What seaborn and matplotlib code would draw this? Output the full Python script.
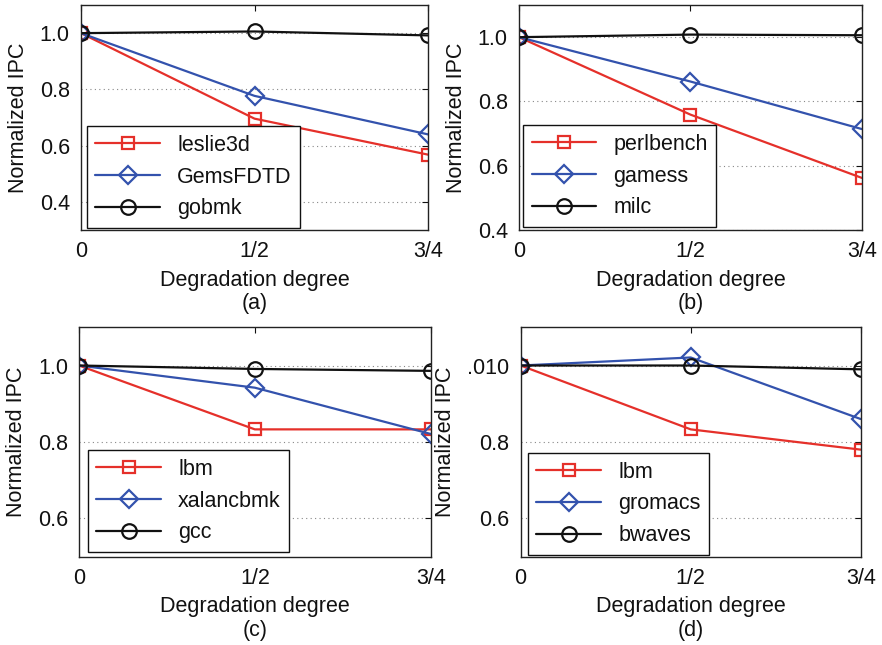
import numpy as np
import pandas as pd
import seaborn as sns
import matplotlib
matplotlib.use("Agg")
import matplotlib.pyplot as plt

# degradation degrees on the x axis (drawn equally spaced)
degrees = ["0", "1/2", "3/4"]

# panel (a)
a_names = ["leslie3d", "GemsFDTD", "gobmk"]
a_leslie3d = [1.0, 0.696, 0.568]
a_gemsfdtd = [1.0, 0.777, 0.640]
a_gobmk = [1.0, 1.006, 0.992]

# panel (b)
b_names = ["perlbench", "gamess", "milc"]
b_perlbench = [1.0, 0.759, 0.562]
b_gamess = [1.0, 0.862, 0.714]
b_milc = [1.0, 1.008, 1.006]

# panel (c)
c_names = ["lbm", "xalancbmk", "gcc"]
c_lbm = [1.0, 0.833, 0.833]
c_xalancbmk = [1.0, 0.942, 0.821]
c_gcc = [1.0, 0.991, 0.986]

# panel (d)
d_names = ["lbm", "gromacs", "bwaves"]
d_lbm = [1.0, 0.833, 0.780]
d_gromacs = [1.0, 1.021, 0.860]
d_bwaves = [1.0, 1.000, 0.990]

sns.set_style("white")
plt.rcParams["font.family"] = ["Liberation Sans", "DejaVu Sans"]
plt.rcParams["text.color"] = "#111111"
plt.rcParams["axes.labelcolor"] = "#111111"
plt.rcParams["xtick.color"] = "#111111"
plt.rcParams["ytick.color"] = "#111111"

colors = ["#e5302a", "#3352ad", "#111111"]
markers = ["s", "D", "o"]
msizes = [9, 9, 10.5]
fs = 15.5

fig = plt.figure(figsize=(8.82, 6.45), dpi=100)

panels = [
    ("(a)", a_names, [a_leslie3d, a_gemsfdtd, a_gobmk], [0.0918, 0.6434, 0.3935, 0.3488],
     (0.3, 1.1), [0.4, 0.6, 0.8, 1.0], ["0.4", "0.6", "0.8", "1.0"], (0.017, 0.009)),
    ("(b)", b_names, [b_perlbench, b_gamess, b_milc], [0.5884, 0.6434, 0.3889, 0.3488],
     (0.4, 1.1), [0.4, 0.6, 0.8, 1.0], ["0.4", "0.6", "0.8", "1.0"], (0.012, 0.013)),
    ("(c)", c_names, [c_lbm, c_xalancbmk, c_gcc], [0.0896, 0.1369, 0.3987, 0.3557],
     (0.5, 1.1), [0.6, 0.8, 1.0], ["0.6", "0.8", "1.0"], (0.025, 0.02)),
    ("(d)", d_names, [d_lbm, d_gromacs, d_bwaves], [0.5903, 0.1369, 0.3856, 0.3557],
     (0.5, 1.1), [0.6, 0.8, 1.0], ["0.6", "0.8", ".010"], (0.021, 0.008)),
]

xpos = np.arange(len(degrees))

for tag, names, series, rect, ylim, yticks, ylabels, lpos in panels:
    ax = fig.add_axes(rect)
    for name, vals, c, m, ms in zip(names, series, colors, markers, msizes):
        sns.lineplot(x=xpos, y=vals, color=c, marker=m, ms=ms, mfc="none",
                     mec=c, mew=1.6, lw=1.6, label=name, ax=ax)
    ax.set_xlim(0, 2)
    ax.set_ylim(*ylim)
    ax.set_xticks(xpos)
    ax.set_xticklabels(degrees)
    ax.set_yticks(yticks)
    ax.set_yticklabels(ylabels)
    ax.yaxis.grid(True, linestyle=(0, (1, 3)), color="#888888", lw=0.8)
    ax.xaxis.grid(False)
    ax.tick_params(direction="in", length=4, width=0.8, labelsize=fs,
                   top=True, right=True, pad=8)
    for s in ax.spines.values():
        s.set_color("#222222")
        s.set_linewidth(1.0)
    ax.set_xlabel("Degradation degree", fontsize=fs, labelpad=5.5)
    ax.set_ylabel("Normalized IPC", fontsize=fs, labelpad=8)
    ax.annotate(tag, xy=(0.5, 0), xycoords="axes fraction", xytext=(0, -53),
                textcoords="offset points", ha="center", va="center", fontsize=fs)
    leg = ax.legend(loc="lower left", bbox_to_anchor=lpos, borderaxespad=0,
                    fontsize=fs, handlelength=3.0, labelspacing=0.5, borderpad=0.4,
                    fancybox=False, framealpha=1, edgecolor="#111111")
    leg.get_frame().set_linewidth(1.0)

fig.savefig("out.png", dpi=100)
